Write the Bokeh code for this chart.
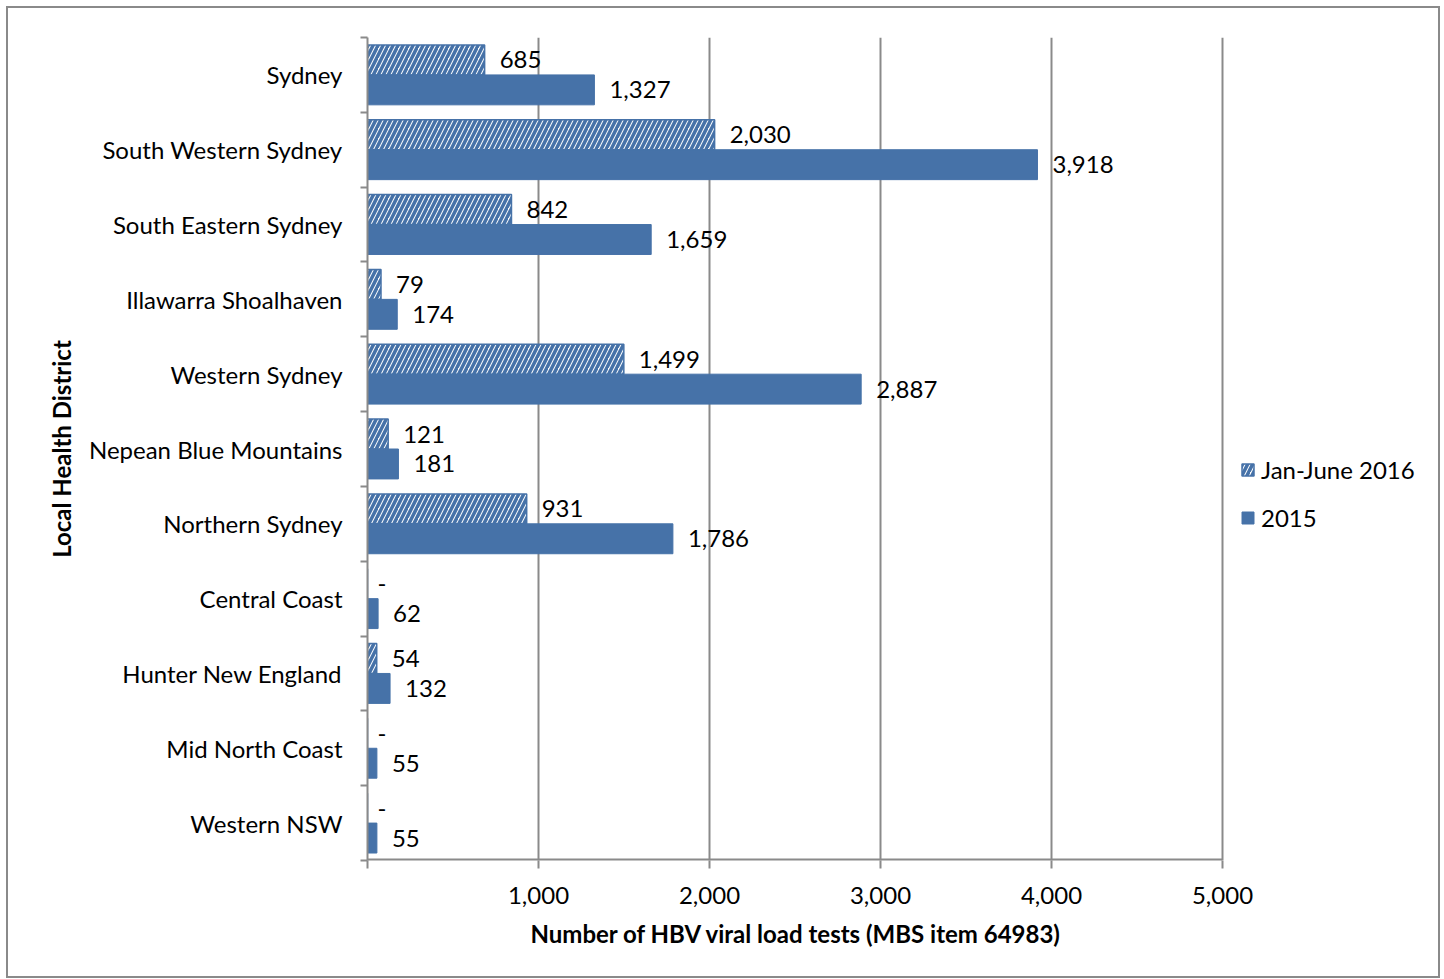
from bokeh.plotting import figure
from bokeh.models import (ColumnDataSource, Range1d, FixedTicker, Legend, LegendItem,
                          InlineStyleSheet, NumeralTickFormatter, Title)
from bokeh.embed import file_html
from bokeh.resources import INLINE
from bokeh.core.properties import value

districts = ["Sydney", "South Western Sydney", "South Eastern Sydney", "Illawarra Shoalhaven",
             "Western Sydney", "Nepean Blue Mountains", "Northern Sydney", "Central Coast",
             "Hunter New England", "Mid North Coast", "Western NSW"]
jan_june_2016 = [685, 2030, 842, 79, 1499, 121, 931, 0, 54, 0, 0]
year_2015 = [1327, 3918, 1659, 174, 2887, 181, 1786, 62, 132, 55, 55]
x_ticks = [0, 1000, 2000, 3000, 4000, 5000]
x_max = 5000

FONT = "Lato"
FS = "24px"
BLUE = "#4672A8"
GREY = "#8a8a8a"

def fmt(v):
    return "-" if v == 0 else f"{v:,}"

n = len(districts)
idx = list(range(n))
src16 = ColumnDataSource(dict(
    y=[i + 0.3 for i in idx], v=jan_june_2016, lab=[fmt(v) for v in jan_june_2016],
    off=[10 if v == 0 else 15 for v in jan_june_2016]))
src15 = ColumnDataSource(dict(
    y=[i + 0.7 for i in idx], v=year_2015, lab=[fmt(v) for v in year_2015],
    off=[10 if v == 0 else 15 for v in year_2015]))

# plot area: axis spans 855 px for 0..5000, frame extended to the right for the legend
AXIS_PX, FRAME_PX = 855, 1063
p = figure(frame_width=FRAME_PX, frame_height=823, output_backend="svg", toolbar_location=None,
           x_range=Range1d(0, x_max * FRAME_PX / AXIS_PX), y_range=Range1d(n, 0),
           min_border_left=359, min_border_right=8, min_border_top=29, min_border_bottom=116)
p.stylesheets = [InlineStyleSheet(css=":host { margin-left: 6px; margin-top: 6px; border: 2px solid #8a8a8a; }")]
p.outline_line_color = None

r16 = p.hbar(y="y", right="v", left=0, height=0.4, source=src16,
             fill_color="white", line_color=BLUE, line_width=1.5,
             hatch_pattern="/", hatch_color=BLUE, hatch_scale=10, hatch_weight=3.5)
r15 = p.hbar(y="y", right="v", left=0, height=0.4, source=src15,
             fill_color=BLUE, line_color=BLUE)

for s in (src16, src15):
    p.text(x="v", y="y", text="lab", x_offset="off", source=s, text_baseline="middle",
           text_align="left", text_font=value(FONT), text_font_size=FS, text_color="black")

# bottom axis line only up to 5,000
p.segment(x0=[0], x1=[x_max], y0=[n], y1=[n], line_color=GREY, line_width=4)

# x axis
p.xaxis.ticker = FixedTicker(ticks=x_ticks)
p.xaxis.formatter = NumeralTickFormatter(format="0,0")
p.xaxis.major_label_overrides = {0: ""}
p.xaxis.major_tick_out = 8
p.xaxis.major_tick_in = 0
p.xaxis.minor_tick_line_color = None
p.xaxis.axis_line_color = None
p.xaxis.major_tick_line_color = GREY
p.xaxis.major_tick_line_width = 2
p.xaxis.major_label_standoff = 18
p.xaxis.major_label_text_font = FONT
p.xaxis.major_label_text_font_size = FS
p.xaxis.major_label_text_color = "black"

xt = Title(text="Number of HBV viral load tests (MBS item 64983)", align="left", offset=163,
           text_font=FONT, text_font_size=FS, text_font_style="bold", text_color="black",
           standoff=21)
p.add_layout(xt, "below")

# y axis
p.yaxis.ticker = FixedTicker(ticks=[i + 0.5 for i in idx], minor_ticks=list(range(n + 1)))
p.yaxis.major_label_overrides = {i + 0.5: d for i, d in enumerate(districts)}
p.yaxis.major_tick_line_color = None
p.yaxis.minor_tick_out = 7
p.yaxis.minor_tick_in = 0
p.yaxis.minor_tick_line_color = GREY
p.yaxis.minor_tick_line_width = 2
p.yaxis.axis_line_color = GREY
p.yaxis.axis_line_width = 2
p.yaxis.major_label_standoff = 18
p.yaxis.major_label_text_font = FONT
p.yaxis.major_label_text_font_size = FS
p.yaxis.major_label_text_color = "black"
p.yaxis.axis_label = "Local Health District"
p.yaxis.axis_label_text_font = FONT
p.yaxis.axis_label_text_font_size = FS
p.yaxis.axis_label_text_font_style = "bold"
p.yaxis.axis_label_text_color = "black"
p.yaxis.axis_label_standoff = 10

p.xgrid.grid_line_color = GREY
p.xgrid.grid_line_width = 2
p.ygrid.grid_line_color = None

legend = Legend(items=[LegendItem(label="Jan-June 2016", renderers=[r16]),
                       LegendItem(label="2015", renderers=[r15])],
                location=(873, 328), orientation="vertical")
legend.margin = 0
legend.padding = 0
legend.label_text_font = FONT
legend.label_text_font_size = FS
legend.label_text_color = "black"
legend.label_height = 29
legend.glyph_width = 15
legend.glyph_height = 15
legend.spacing = 19
legend.label_standoff = 6
legend.border_line_color = None
legend.background_fill_alpha = 0
p.add_layout(legend, "center")

open("out.html", "w").write(file_html(p, INLINE))
